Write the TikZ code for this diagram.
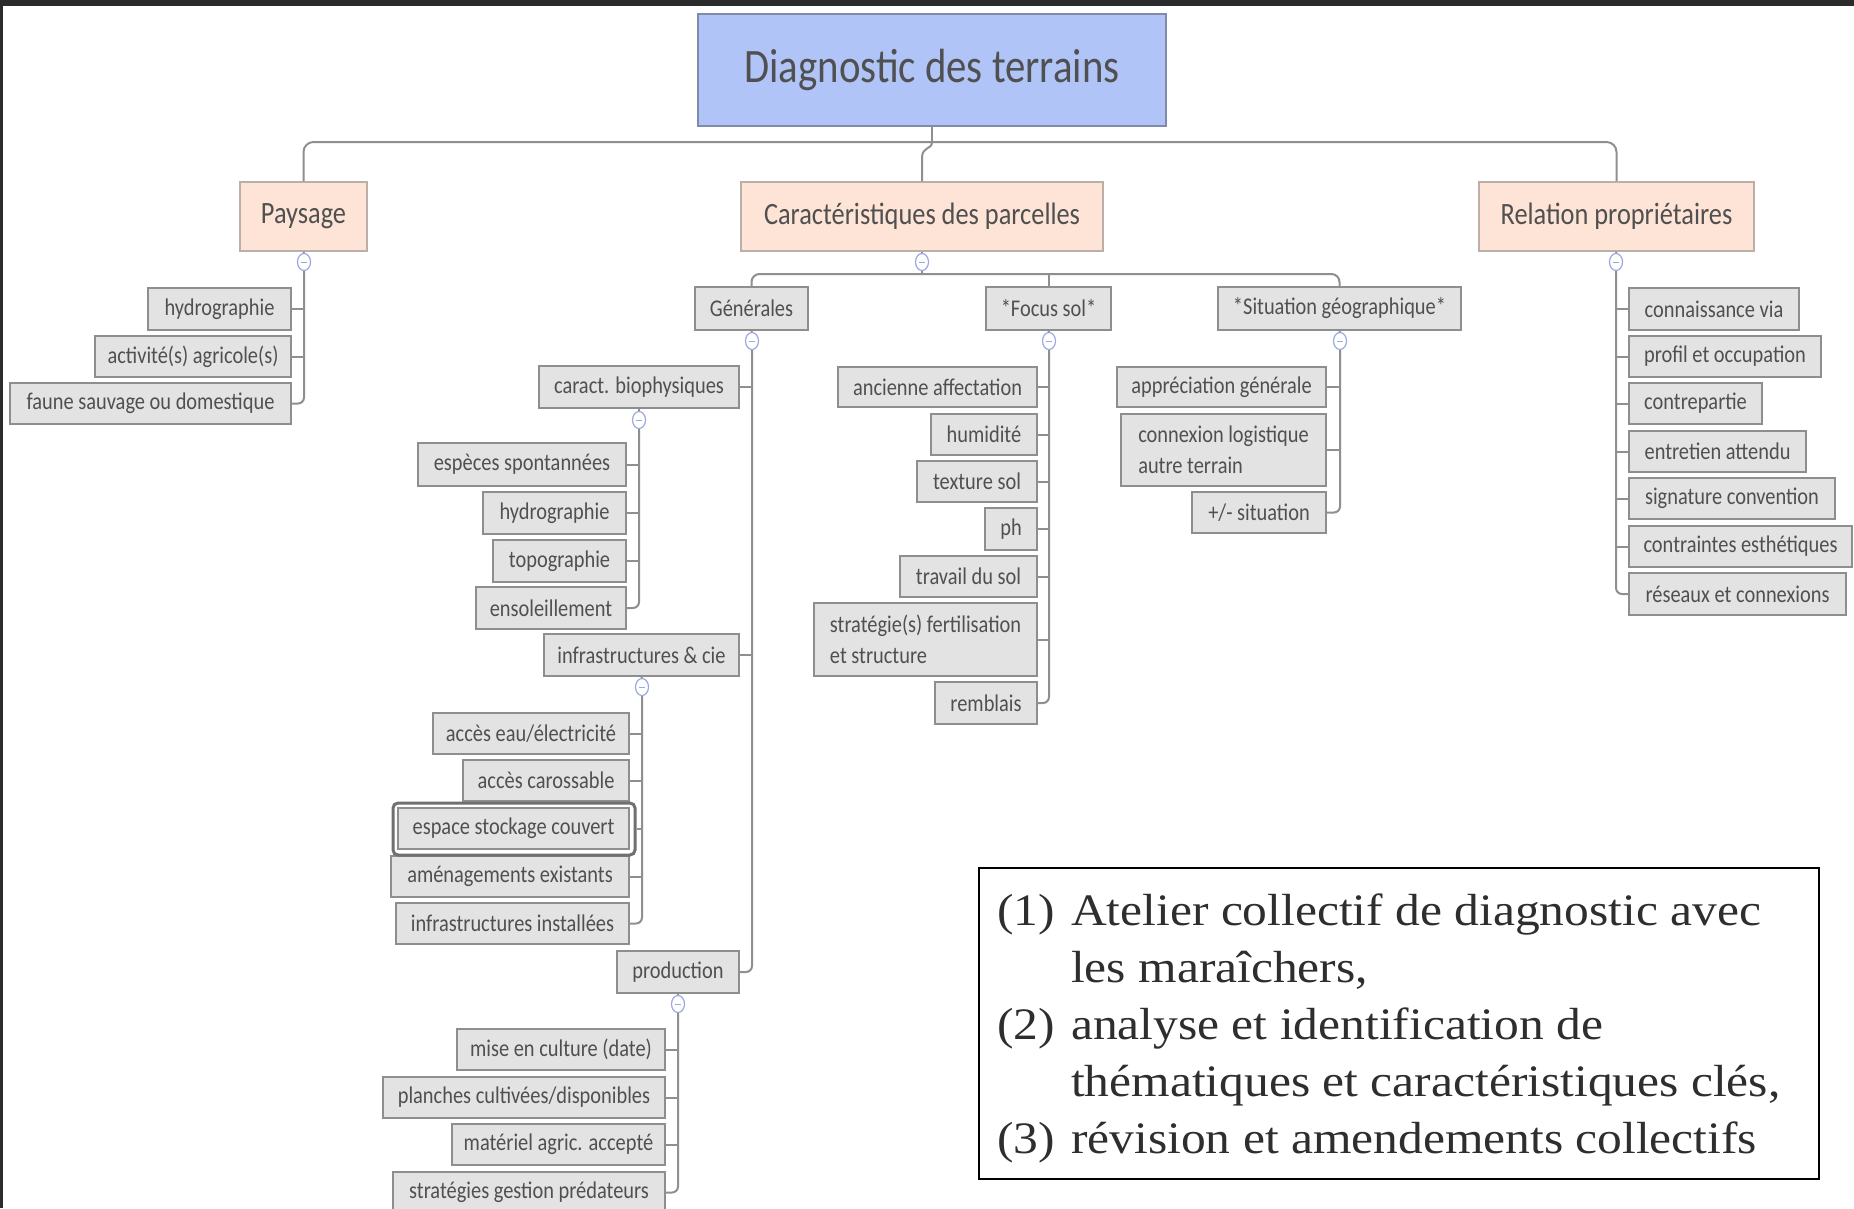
\documentclass[tikz,border=0pt]{standalone}
\usepackage{fontspec}
\setmainfont{Carlito}
\newfontfamily\mmfont[FakeStretch=0.85]{Carlito}
\newfontfamily\notefont[FakeStretch=1.1]{Liberation Serif}
\usetikzlibrary{shapes.geometric}
\definecolor{rootf}{HTML}{B0C4F8}
\definecolor{rootb}{HTML}{7F8BA8}
\definecolor{lvf}{HTML}{FDE4D6}
\definecolor{lvb}{HTML}{BBAFA8}
\definecolor{lff}{HTML}{E3E3E3}
\definecolor{lfb}{HTML}{8E8E8E}
\definecolor{linec}{HTML}{8F8F8F}
\definecolor{togc}{HTML}{9AAAE0}
\definecolor{hlc}{HTML}{707070}
\definecolor{txt}{HTML}{505050}
\definecolor{notec}{HTML}{2E2E2E}
\definecolor{framec}{HTML}{2B2B2B}
\newcommand\mmbox[7][leaf]{\node[#1, minimum width={(#5-#3)*1pt}, minimum height={(#6-#4)*1pt}] (#2) at ({(#3+#5)/2},{(#4+#6)/2}) {#7};}
\tikzset{
  conn/.style={draw=linec, line width=2pt},
  lastconn/.style={draw=linec, line width=2pt, rounded corners=6pt},
  rootbox/.style={draw=rootb, fill=rootf, line width=2pt, inner sep=0pt, text=txt, font=\mmfont\fontsize{48}{50}\selectfont},
  lvlone/.style={draw=lvb, fill=lvf, line width=1.6pt, inner sep=0pt, text=txt, font=\mmfont\fontsize{31}{34}\selectfont},
  leaf/.style={draw=lfb, fill=lff, line width=1.6pt, inner sep=0pt, text=txt, font=\mmfont\fontsize{24}{31}\selectfont},
  tog/.style={ellipse, draw=togc, fill=white, line width=1.2pt, minimum width=13pt, minimum height=17pt, inner sep=0pt,
    path picture={\draw[togc, line width=1pt] ([xshift=-3pt]path picture bounding box.center) -- ([xshift=3pt]path picture bounding box.center);}},
}
\begin{document}
\begin{tikzpicture}[x=1pt, y=-1pt]
\useasboundingbox (0,0) rectangle (1854,1208);
\clip (0,0) rectangle (1854,1208);
\fill[white] (0,0) rectangle (1854,1208);
\fill[framec] (0,0) rectangle (1854,6);
\fill[framec] (0,0) rectangle (3,1208);

% root and level 1
\mmbox[rootbox]{root}{698}{14}{1166}{126}{Diagnostic des terrains}
\mmbox[lvlone]{paysage}{240}{182}{367}{251}{Paysage}
\mmbox[lvlone]{caract}{741}{182}{1103}{251}{Caractéristiques des parcelles}
\mmbox[lvlone]{relation}{1479}{182}{1754}{251}{Relation propriétaires}
\coordinate (bar) at (932,142);
\draw[conn, rounded corners=10pt] (paysage.north) |- (bar) -| (relation.north);
\draw[conn] (root.south) -- (bar);
\draw[conn] (bar) .. controls (932,150) and (922,146) .. (922,158) -- (caract.north);

\node[tog] (tP) at (304,262) {};
\node[tog] (tC) at (922,262) {};
\node[tog] (tR) at (1616,262) {};
\draw[conn] (paysage.south) -- (tP.north);
\draw[conn] (caract.south) -- (tC.north);
\draw[conn] (relation.south) -- (tR.north);

% Paysage
\mmbox{p1}{148}{288}{291}{330}{hydrographie}
\mmbox{p2}{95}{336}{291}{377}{activité(s) agricole(s)}
\mmbox{p3}{10}{383}{291}{424}{faune sauvage ou domestique}
\draw[conn] (tP.south) |- (p1.east);
\draw[conn] (tP.south) |- (p2.east);
\draw[lastconn] (tP.south) |- (p3.east);

% level 2
\mmbox{gen}{695}{287}{808}{330}{Générales}
\mmbox{focus}{986}{287}{1111}{330}{*Focus sol*}
\mmbox{sit}{1218}{287}{1461}{330}{*Situation géographique*}
\coordinate (cbar) at (922,274);
\draw[conn, rounded corners=8pt] (gen.north) |- (cbar) -| (sit.north);
\draw[conn] (tC.south) -- (cbar);
\draw[conn] (focus.north) -- (focus.north |- cbar);
\node[tog] (tG) at (752,341) {};
\node[tog] (tF) at (1049,341) {};
\node[tog] (tS) at (1340,341) {};
\draw[conn] (gen.south) -- (tG.north);
\draw[conn] (focus.south) -- (tF.north);
\draw[conn] (sit.south) -- (tS.north);

% Generales
\mmbox{g1}{539}{366}{739}{408}{caract. biophysiques}
\mmbox{g2}{544}{634}{739}{676}{infrastructures \& cie}
\mmbox{g3}{617}{951}{739}{993}{production}
\draw[conn] (tG.south) |- (g1.east);
\draw[conn] (tG.south) |- (g2.east);
\draw[lastconn] (tG.south) |- (g3.east);

\node[tog] (tB) at (639,420) {};
\draw[conn] (g1.south) -- (tB.north);
\mmbox{b1}{418}{443}{626}{486}{espèces spontannées}
\mmbox{b2}{483}{492}{626}{534}{hydrographie}
\mmbox{b3}{493}{540}{626}{582}{topographie}
\mmbox{b4}{476}{587}{626}{629}{ensoleillement}
\draw[conn] (tB.south) |- (b1.east);
\draw[conn] (tB.south) |- (b2.east);
\draw[conn] (tB.south) |- (b3.east);
\draw[lastconn] (tB.south) |- (b4.east);

\node[tog] (tI) at (642,687) {};
\draw[conn] (g2.south) -- (tI.north);
\mmbox{i1}{433}{713}{629}{754}{accès eau/électricité}
\mmbox{i2}{463}{760}{629}{801}{accès carossable}
\mmbox{i3}{398}{808}{629}{849}{espace stockage couvert}
\mmbox{i4}{391}{856}{629}{897}{aménagements existants}
\mmbox{i5}{396}{903}{629}{944}{infrastructures installées}
\node[draw=hlc, line width=3pt, rounded corners=5pt, minimum width=242pt, minimum height=52pt, inner sep=0pt] (i3hl) at (514,829) {};
\draw[conn] (tI.south) |- (i1.east);
\draw[conn] (tI.south) |- (i2.east);
\draw[conn] (tI.south) |- (i3hl.east);
\draw[conn] (tI.south) |- (i4.east);
\draw[lastconn] (tI.south) |- (i5.east);

\node[tog] (tPr) at (678,1004) {};
\draw[conn] (g3.south) -- (tPr.north);
\mmbox{r1}{457}{1029}{665}{1070}{mise en culture (date)}
\mmbox{r2}{383}{1077}{665}{1118}{planches cultivées/disponibles}
\mmbox{r3}{452}{1124}{665}{1165}{matériel agric. accepté}
\mmbox{r4}{393}{1172}{665}{1213}{stratégies gestion prédateurs}
\draw[conn] (tPr.south) |- (r1.east);
\draw[conn] (tPr.south) |- (r2.east);
\draw[conn] (tPr.south) |- (r3.east);
\draw[lastconn] (tPr.south) |- (r4.east);

% Focus sol
\mmbox{f1}{838}{367}{1037}{407}{ancienne affectation}
\mmbox{f2}{931}{414}{1037}{455}{humidité}
\mmbox{f3}{917}{461}{1037}{502}{texture sol}
\mmbox{f4}{985}{508}{1037}{550}{ph}
\mmbox{f5}{900}{556}{1037}{597}{travail du sol}
\mmbox[leaf,align=left]{f6}{814}{603}{1037}{676}{stratégie(s) fertilisation\\et structure}
\mmbox{f7}{935}{682}{1037}{724}{remblais}
\foreach \n in {f1,f2,f3,f4,f5,f6} {\draw[conn] (tF.south) |- (\n.east);}
\draw[lastconn] (tF.south) |- (f7.east);

% Situation
\mmbox{s1}{1117}{367}{1326}{407}{appréciation générale}
\mmbox[leaf,align=left]{s2}{1121}{414}{1326}{486}{connexion logistique\\autre terrain}
\mmbox{s3}{1192}{492}{1326}{533}{+/- situation}
\draw[conn] (tS.south) |- (s1.east);
\draw[conn] (tS.south) |- (s2.east);
\draw[lastconn] (tS.south) |- (s3.east);

% Relation
\mmbox{q1}{1629}{288}{1799}{330}{connaissance via}
\mmbox{q2}{1629}{336}{1821}{377}{profil et occupation}
\mmbox{q3}{1629}{383}{1762}{424}{contrepartie}
\mmbox{q4}{1629}{431}{1806}{472}{entretien attendu}
\mmbox{q5}{1629}{478}{1835}{519}{signature convention}
\mmbox{q6}{1629}{526}{1852}{567}{contraintes esthétiques}
\mmbox{q7}{1629}{573}{1846}{615}{réseaux et connexions}
\foreach \n in {q1,q2,q3,q4,q5,q6} {\draw[conn] (tR.south) |- (\n.west);}
\draw[lastconn] (tR.south) |- (q7.west);

% notes box
\node[draw=black, line width=1.8pt, minimum width=840pt, minimum height=311pt, inner sep=0pt] (notebox) at (1399,1023.5) {};
\node[anchor=north west, inner sep=0pt, text=notec, font=\notefont\fontsize{45}{57}\selectfont] (notes) at (997,885) {%
\begin{tabular}{@{}l@{}l@{}}
\makebox[74pt][l]{(1)} & Atelier collectif de diagnostic avec\\
 & les maraîchers,\\
\makebox[74pt][l]{(2)} & analyse et identification de\\
 & thématiques et caractéristiques clés,\\
\makebox[74pt][l]{(3)} & révision et amendements collectifs
\end{tabular}};
\end{tikzpicture}
\end{document}
